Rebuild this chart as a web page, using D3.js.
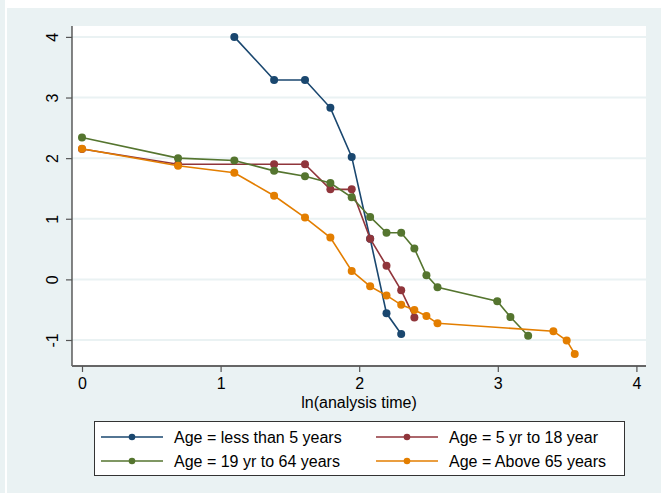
<!DOCTYPE html>
<html>
<head>
<meta charset="utf-8">
<script src="https://cdn.jsdelivr.net/npm/d3@7"></script>
<style>
  html, body { margin: 0; padding: 0; background: #ffffff; }
  svg { display: block; }
  text { font-family: "Liberation Sans", Arial, sans-serif; fill: #000; }
</style>
</head>
<body>
<svg id="chart" width="661" height="493"></svg>
<script>
// Log-log survival curves: ln(-ln S(t)) against ln(analysis time), by age group

const xTicks = [0, 1, 2, 3, 4];
const yTicks = [-1, 0, 1, 2, 3, 4];
const xTitle = "ln(analysis time)";

const seriesNames = [
  "Age = less than 5 years",
  "Age = 5 yr to 18 year",
  "Age = 19 yr to 64 years",
  "Age = Above 65 years"
];
const seriesColors = ["#1a476f", "#90353b", "#55752f", "#e37e00"];

// ln(t) values and ln(-ln S) values for each group
const lessThan5X = [1.099, 1.386, 1.609, 1.792, 1.946, 2.079, 2.197, 2.303];
const lessThan5Y = [4.00, 3.29, 3.29, 2.83, 2.02, 0.67, -0.56, -0.90];

const age5to18X = [0, 0.693, 1.386, 1.609, 1.792, 1.946, 2.079, 2.197, 2.303, 2.398];
const age5to18Y = [2.15, 1.90, 1.90, 1.90, 1.485, 1.485, 0.67, 0.225, -0.18, -0.63];

const age19to64X = [0, 0.693, 1.099, 1.386, 1.609, 1.792, 1.946, 2.079, 2.197, 2.303, 2.398, 2.485, 2.565, 2.996, 3.091, 3.219];
const age19to64Y = [2.34, 2.00, 1.96, 1.79, 1.70, 1.59, 1.355, 1.03, 0.77, 0.77, 0.51, 0.07, -0.13, -0.36, -0.62, -0.93];

const above65X = [0, 0.693, 1.099, 1.386, 1.609, 1.792, 1.946, 2.079, 2.197, 2.303, 2.398, 2.485, 2.565, 3.401, 3.497, 3.555];
const above65Y = [2.155, 1.875, 1.76, 1.38, 1.02, 0.69, 0.14, -0.115, -0.265, -0.42, -0.505, -0.605, -0.725, -0.855, -1.01, -1.23];

const seriesX = [lessThan5X, age5to18X, age19to64X, above65X];
const seriesY = [lessThan5Y, age5to18Y, age19to64Y, above65Y];

const bgColor = "#eaf2f3";
const svg = d3.select("#chart");

// graph region background
svg.append("rect").attr("x", 0).attr("y", 0).attr("width", 5).attr("height", 493).attr("fill", bgColor);
svg.append("rect").attr("x", 7).attr("y", 8).attr("width", 654).attr("height", 485).attr("fill", bgColor);

// plot region
const plot = { left: 72, top: 26, right: 646, bottom: 366 };
svg.append("rect")
  .attr("x", plot.left).attr("y", plot.top)
  .attr("width", plot.right - plot.left).attr("height", plot.bottom - plot.top)
  .attr("fill", "#ffffff");

const x = d3.scaleLinear().domain([0, 4]).range([82, 636.4]);
const y = d3.scaleLinear().domain([-1, 4]).range([340, 36.9]);

// plain hyphen for negative tick labels
const intLabel = d => String(d);

// horizontal grid lines
svg.append("g").selectAll("line").data(yTicks).join("line")
  .attr("x1", plot.left).attr("x2", plot.right)
  .attr("y1", d => y(d)).attr("y2", d => y(d))
  .attr("stroke", bgColor).attr("stroke-width", 2);

// y axis
const yAxis = svg.append("g").attr("transform", `translate(${plot.left},0)`)
  .call(d3.axisLeft(y).tickValues(yTicks).tickFormat(intLabel).tickSize(6).tickPadding(0));
yAxis.select(".domain").attr("d", `M0,${plot.top}V${plot.bottom}`).attr("stroke", "#333").attr("stroke-width", 1.2);
yAxis.selectAll(".tick line").attr("stroke", "#555").attr("stroke-width", 1.2);
yAxis.selectAll(".tick text")
  .attr("font-size", 16)
  .attr("font-family", "Liberation Sans, Arial, sans-serif")
  .attr("fill", "#000")
  .attr("text-anchor", "middle")
  .attr("x", 0).attr("y", 0).attr("dy", null)
  .attr("transform", "translate(-14,0) rotate(-90)");

// x axis
const xAxis = svg.append("g").attr("transform", `translate(0,${plot.bottom})`)
  .call(d3.axisBottom(x).tickValues(xTicks).tickFormat(intLabel).tickSize(6).tickPadding(6));
xAxis.select(".domain").attr("d", `M${plot.left},0H${plot.right}`).attr("stroke", "#666").attr("stroke-width", 2);
xAxis.selectAll(".tick line").attr("stroke", "#555").attr("stroke-width", 1.2);
xAxis.selectAll(".tick text")
  .attr("font-size", 16)
  .attr("font-family", "Liberation Sans, Arial, sans-serif")
  .attr("fill", "#000");

svg.append("text")
  .attr("x", (plot.left + plot.right) / 2).attr("y", 408)
  .attr("text-anchor", "middle").attr("font-size", 16)
  .text(xTitle);

// series: connected lines with filled circle markers
const line = d3.line().x(d => x(d[0])).y(d => y(d[1]));
seriesX.forEach((xs, i) => {
  const pts = xs.map((v, j) => [v, seriesY[i][j]]);
  const g = svg.append("g");
  g.append("path").datum(pts)
    .attr("d", line).attr("fill", "none")
    .attr("stroke", seriesColors[i]).attr("stroke-width", 1.6);
  g.selectAll("circle").data(pts).join("circle")
    .attr("cx", d => x(d[0])).attr("cy", d => y(d[1])).attr("r", 4)
    .attr("fill", seriesColors[i]);
});

// legend
const legend = svg.append("g");
legend.append("rect")
  .attr("x", 94.5).attr("y", 421.5).attr("width", 530).attr("height", 54)
  .attr("fill", "#ffffff").attr("stroke", "#333").attr("stroke-width", 1);
const legendPos = [[101, 437], [376, 437], [101, 461], [376, 461]];
seriesNames.forEach((name, i) => {
  const [lx, ly] = legendPos[i];
  legend.append("line")
    .attr("x1", lx).attr("x2", lx + 62).attr("y1", ly).attr("y2", ly)
    .attr("stroke", seriesColors[i]).attr("stroke-width", 1.6);
  legend.append("circle").attr("cx", lx + 31).attr("cy", ly).attr("r", 3.3).attr("fill", seriesColors[i]);
  legend.append("text")
    .attr("x", lx + 73).attr("y", ly + 6)
    .attr("font-size", 16)
    .text(name);
});
</script>
</body>
</html>
